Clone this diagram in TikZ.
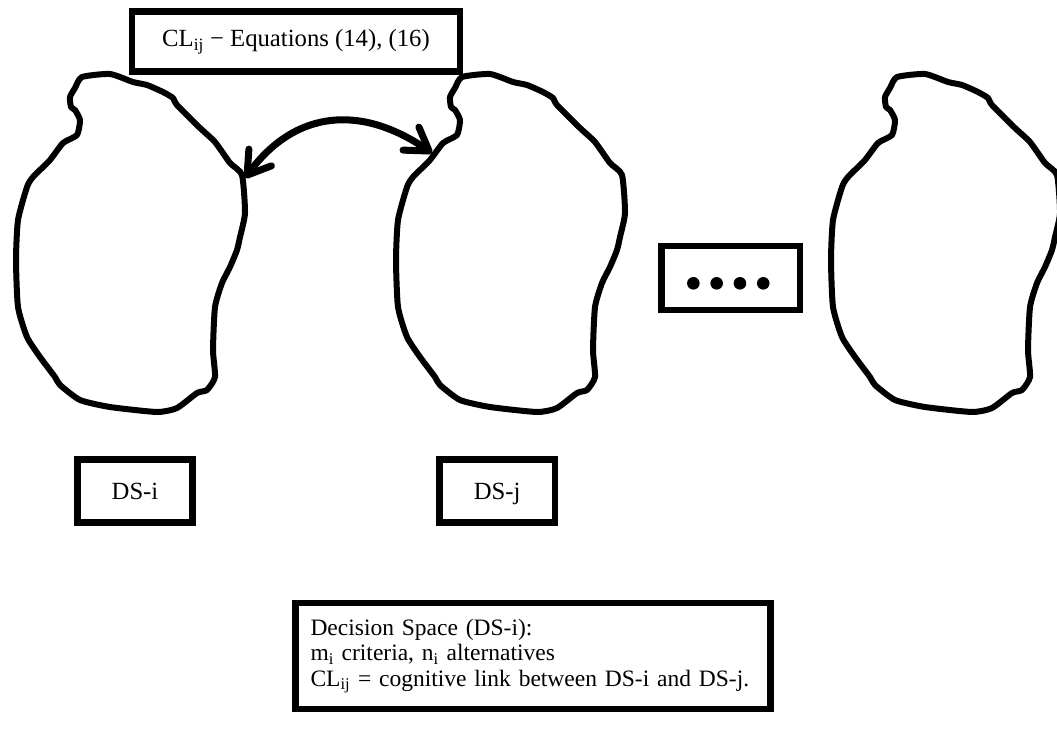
\documentclass[tikz,border=0pt]{standalone}
\usepackage{fontspec}
\setmainfont{Liberation Serif}
\usepackage{tikz}
\usetikzlibrary{
arrows.meta,
positioning
}

% outline of one decision space (pixel units)
\newcommand{\dsoutline}{plot[smooth cycle, tension=0.35] coordinates {
  (82,77) (110,74) (133,82) (147,85) (163,92) (173,98) (177,105) (200,128)
  (215,142) (230,163) (242,175) (245,213) (240,237) (237,250) (230,267)
  (222,283) (215,307) (213,350) (215,377) (207,390) (197,393) (177,408)
  (157,412) (110,407) (80,400) (60,385) (55,377) (40,357) (27,337) (18,307)
  (16,260) (18,220) (27,187) (33,177) (50,160) (63,143) (77,135) (80,120)
  (75,110) (71,107) (70,97) (75,88)}}

\tikzset{
  txt/.style={font=\fontsize{24.7pt}{27.5pt}\selectfont},
  blob/.style={line width=6pt, line join=round},
  frame/.style={draw, line width=6.7pt, inner sep=0pt, txt},
  dslabel/.style={frame, minimum width=115.5pt, minimum height=63.4pt,
    text height=16pt, text depth=0pt},
  link/.style={line width=7pt,
    {Straight Barb[length=22pt,width=28pt,round]}-{Straight Barb[length=22pt,width=28pt,round]}}
}

\begin{document}
\begin{tikzpicture}[x=1pt, y=-1pt]

\useasboundingbox (0,0) rectangle (1057,734);

% Decision spaces
\draw[blob] \dsoutline;
\begin{scope}[shift={(380,0)}]
  \draw[blob] \dsoutline;
\end{scope}
\begin{scope}[shift={(815,0)}]
  \draw[blob] \dsoutline;
\end{scope}

% Boxes
\node[frame, minimum width=328pt, minimum height=60pt] (eqbox) at (296,41.7)
  {CL\textsubscript{ij} − Equations (14), (16)};
\node[dslabel] (dsi) at (135,491) {DS-i};
\node[dslabel] (dsj) at (497.2,491) {DS-j};
\node[frame, minimum width=138.3pt, minimum height=64pt] (dotsbox) at (730.8,278) {};
\foreach \k in {-1.5,-0.5,0.5,1.5}
  \fill ([xshift=\k*23.3pt-2.5pt, yshift=-5.3pt]dotsbox.center) circle[radius=6.3pt];

\node[frame, minimum width=475pt, minimum height=106pt, inner xsep=15pt,
  text width=445pt, align=left, font=\fontsize{23.5pt}{25.5pt}\selectfont]
  (legend) at (533,656)
  {Decision Space (DS-i):\\
   m\textsubscript{i} criteria, n\textsubscript{i} alternatives\\
   CL\textsubscript{ij} = cognitive link between DS-i and DS-j.};

% Cognitive link
\coordinate (dsiedge) at (245,178);
\coordinate (dsjedge) at (432,153);
\draw[link] (dsiedge) .. controls (296,109) and (362,105) .. (dsjedge);

\end{tikzpicture}
\end{document}
